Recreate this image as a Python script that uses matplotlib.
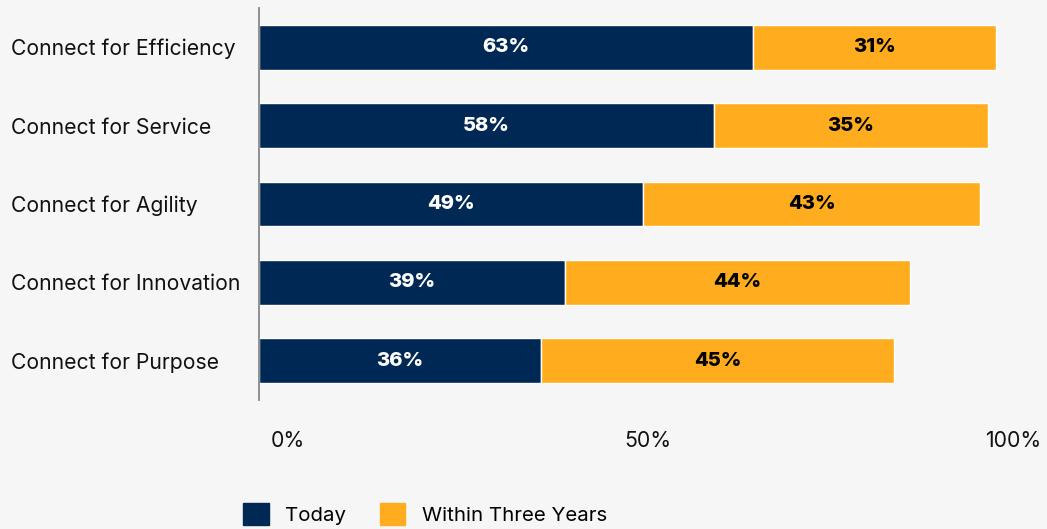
import matplotlib
matplotlib.use("Agg")
import matplotlib.pyplot as plt
from matplotlib.patches import Patch
import matplotlib.transforms as mtransforms

categories = ["Connect for Efficiency", "Connect for Service", "Connect for Agility",
              "Connect for Innovation", "Connect for Purpose"]
today = [63, 58, 49, 39, 36]
within3 = [31, 35, 43, 44, 45]
xticks = [0, 50, 100]
xticklabels = ["0%", "50%", "100%"]
series_names = ["Today", "Within Three Years"]

NAVY = "#002855"
ORANGE = "#FFAD1F"
BG = "#F6F6F6"
plt.rcParams['font.family'] = ['Inter', 'DejaVu Sans']

fig = plt.figure(figsize=(10.47, 5.29), dpi=100, facecolor=BG)
ax = fig.add_axes([259/1047, 1 - 400/529, (1043-259)/1047, 392/529], facecolor=BG)

y = list(range(len(categories)))
h = 0.57
ax.barh(y, today, height=h, color=NAVY, edgecolor="white", linewidth=1)
ax.barh(y, within3, left=today, height=h, color=ORANGE, edgecolor="white", linewidth=1)
for i in y:
    ax.text(today[i]/2, i, f"{today[i]}%", ha="center", va="center", color="white",
            fontsize=14.5, fontweight="heavy")
    ax.text(today[i] + within3[i]/2, i, f"{within3[i]}%", ha="center", va="center",
            color="black", fontsize=14.5, fontweight="heavy")

ax.set_xlim(0, 100)
ax.set_ylim(len(categories) - 0.5, -0.5)
ax.set_yticks(y)
ax.set_yticklabels(categories, fontsize=15.2, color="#111111", ha="left")
ax.tick_params(axis="y", length=0, pad=248*0.72)
ax.set_xticks(xticks)
ax.set_xticklabels(xticklabels, fontsize=15.3, color="#111111")
ax.tick_params(axis="x", length=0, pad=22)
offs = [29, -3, -30]
for lab, o in zip(ax.get_xticklabels(), offs):
    lab.set_transform(lab.get_transform() + mtransforms.ScaledTranslation(o/100, 0, fig.dpi_scale_trans))

for s in ["top", "right", "bottom"]:
    ax.spines[s].set_visible(False)
ax.spines["left"].set_color("#888888")
ax.spines["left"].set_linewidth(1.3)

handles = [Patch(color=NAVY, label=series_names[0]), Patch(color=ORANGE, label=series_names[1])]
leg = fig.legend(handles=handles, loc="center left", bbox_to_anchor=(225/1047, 1 - 514/529),
                 ncol=2, frameon=False, fontsize=14.7, handlelength=1.25, handleheight=1.25,
                 columnspacing=1.65, handletextpad=0.8)

fig.savefig("out.png", dpi=100, facecolor=BG)
